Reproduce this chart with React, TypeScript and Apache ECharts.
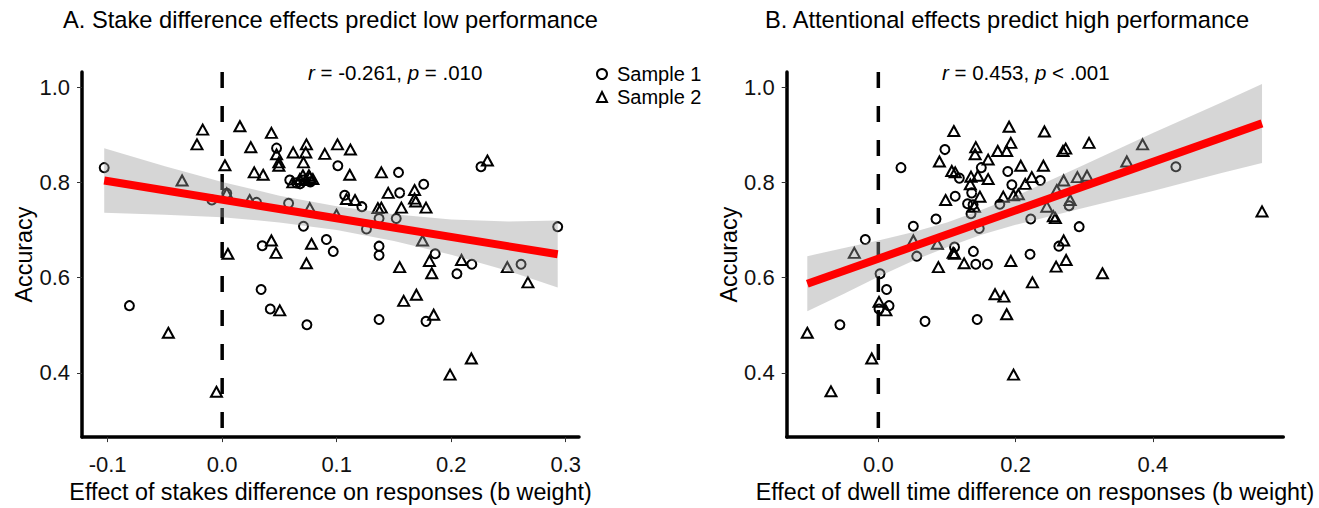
import React, { useEffect, useRef } from "react";
import * as echarts from "echarts";

const FONT = "'Liberation Sans', Arial, sans-serif";

// Panel A: stake difference effects
const aCircles: number[][] = [
  [-0.103, 0.831], [-0.081, 0.541], [0.0475, 0.872], [0.101, 0.835], [0.154, 0.821],
  [0.176, 0.796], [0.155, 0.778], [0.107, 0.773], [0.122, 0.749], [0.058, 0.756],
  [0.004, 0.777], [0.071, 0.708], [0.137, 0.724], [0.152, 0.724], [0.126, 0.702],
  [0.091, 0.68], [0.226, 0.833], [0.293, 0.707], [0.097, 0.655], [0.137, 0.666],
  [0.137, 0.647], [0.186, 0.65], [0.218, 0.628], [0.205, 0.608], [0.261, 0.628],
  [0.074, 0.501], [0.137, 0.512], [0.178, 0.508], [0.035, 0.667], [0.034, 0.575],
  [0.042, 0.534], [0.059, 0.805], [0.065, 0.799], [0.071, 0.805], [0.077, 0.801],
  [0.068, 0.797], [-0.009, 0.763], [0.03, 0.758],
];
const aTriangles: number[][] = [
  [-0.017, 0.911], [-0.022, 0.88], [0.0155, 0.918], [0.043, 0.904], [0.025, 0.874],
  [0.0475, 0.859], [0.0495, 0.842], [0.0495, 0.835], [0.062, 0.863], [0.0736, 0.88],
  [0.073, 0.863], [0.071, 0.842], [0.0896, 0.86], [0.1007, 0.88], [0.112, 0.869],
  [0.1114, 0.816], [0.0024, 0.836], [0.028, 0.821], [0.0358, 0.816], [-0.035, 0.804],
  [0.116, 0.763], [0.1085, 0.765], [0.136, 0.746], [0.0765, 0.811], [0.139, 0.821],
  [0.145, 0.778], [0.168, 0.784], [0.168, 0.766], [0.169, 0.76], [0.178, 0.747],
  [0.1565, 0.747], [0.139, 0.747], [0.2316, 0.846], [0.078, 0.671], [0.175, 0.678],
  [0.0736, 0.63], [0.155, 0.622], [0.181, 0.635], [0.183, 0.609], [0.209, 0.637],
  [0.249, 0.622], [0.267, 0.59], [0.1585, 0.551], [0.1696, 0.564], [0.1847, 0.522],
  [0.2176, 0.43], [0.199, 0.396], [0.005, 0.65], [0.043, 0.678], [0.047, 0.652],
  [0.0503, 0.531], [-0.047, 0.484], [-0.005, 0.36], [0.0617, 0.8], [0.0678, 0.807],
  [0.073, 0.805], [0.0757, 0.815], [0.0792, 0.807], [0.0705, 0.815], [0.024, 0.763],
  [0.0765, 0.746], [0.0998, 0.732], [0.004, 0.777],
];
const aFitX = [-0.103, 0.293];
const aFitY = [0.804, 0.649];
const aBandX = [-0.103, -0.05, 0, 0.05, 0.1, 0.15, 0.2, 0.25, 0.293];
const aBandLo = [0.736, 0.732, 0.727, 0.716, 0.7, 0.677, 0.648, 0.614, 0.579];
const aBandHi = [0.872, 0.834, 0.801, 0.772, 0.75, 0.733, 0.722, 0.718, 0.72];

// Panel B: attentional effects
const bCircles: number[][] = [
  [-0.056, 0.501], [0.0025, 0.608], [0.012, 0.575], [0.001, 0.534], [0.0156, 0.541],
  [0.068, 0.508], [0.056, 0.645], [0.111, 0.664], [0.142, 0.628], [0.159, 0.628],
  [0.1385, 0.655], [0.144, 0.512], [-0.019, 0.68], [0.051, 0.708], [0.084, 0.723],
  [0.147, 0.703], [0.221, 0.649], [0.222, 0.723], [0.2926, 0.707], [0.263, 0.666],
  [0.033, 0.831], [0.097, 0.869], [0.15, 0.831], [0.118, 0.809], [0.1886, 0.823],
  [0.136, 0.778], [0.1945, 0.795], [0.236, 0.804], [0.112, 0.771], [0.13, 0.755],
  [0.138, 0.753], [0.135, 0.734], [0.177, 0.754], [0.278, 0.751], [0.4335, 0.833],
];
const bTriangles: number[][] = [
  [-0.1035, 0.484], [-0.069, 0.361], [-0.035, 0.652], [-0.0096, 0.43], [0.001, 0.549],
  [0.011, 0.531], [0.0875, 0.622], [0.109, 0.652], [0.125, 0.63], [0.193, 0.635],
  [0.17, 0.565], [0.183, 0.56], [0.187, 0.523], [0.197, 0.396], [0.051, 0.678],
  [0.086, 0.671], [0.111, 0.65], [0.258, 0.725], [0.27, 0.678], [0.2736, 0.637],
  [0.259, 0.623], [0.3265, 0.609], [0.2245, 0.59], [0.11, 0.908], [0.1905, 0.917],
  [0.242, 0.907], [0.307, 0.883], [0.142, 0.874], [0.141, 0.859], [0.174, 0.866],
  [0.187, 0.866], [0.193, 0.883], [0.16, 0.848], [0.089, 0.844], [0.107, 0.824],
  [0.112, 0.821], [0.135, 0.812], [0.145, 0.814], [0.16, 0.807], [0.2075, 0.835],
  [0.2405, 0.835], [0.269, 0.866], [0.273, 0.871], [0.134, 0.796], [0.214, 0.797],
  [0.2236, 0.811], [0.27, 0.804], [0.29, 0.811], [0.304, 0.814], [0.098, 0.763],
  [0.148, 0.77], [0.14, 0.749], [0.182, 0.77], [0.197, 0.773], [0.204, 0.775],
  [0.2455, 0.749], [0.2795, 0.763], [0.255, 0.729], [0.362, 0.844], [0.385, 0.88],
  [0.559, 0.739], [0.26, 0.784],
];
const bFitX = [-0.1035, 0.559];
const bFitY = [0.587, 0.924];
const bBandX = [-0.1035, -0.05, 0, 0.05, 0.1, 0.15, 0.2, 0.3, 0.4, 0.5, 0.559];
const bBandLo = [0.529, 0.566, 0.602, 0.635, 0.664, 0.69, 0.711, 0.747, 0.782, 0.82, 0.841];
const bBandHi = [0.645, 0.662, 0.678, 0.695, 0.716, 0.742, 0.771, 0.837, 0.904, 0.968, 1.007];

const yTicks = [0.4, 0.6, 0.8, 1.0];
const aXTicks = [-0.1, 0, 0.1, 0.2, 0.3];
const bXTicks = [0, 0.2, 0.4];
const Y_MIN = 0.2648;
const Y_MAX = 1.032;

const titles = [
  "A. Stake difference effects predict low performance",
  "B. Attentional effects predict high performance",
];
const stats = ["{i|r} = -0.261, {i|p} = .010", "{i|r} = 0.453, {i|p} < .001"];
const xNames = [
  "Effect of stakes difference on responses (b weight)",
  "Effect of dwell time difference on responses (b weight)",
];
const yName = "Accuracy";

function makeX(idx: number, min: number, max: number, ticks: number[]) {
  return {
    type: "value",
    gridIndex: idx,
    min,
    max,
    splitLine: { show: false },
    axisLine: { show: true, onZero: false, lineStyle: { color: "#000", width: 3.5 } },
    axisTick: { show: true, customValues: ticks, length: 5, lineStyle: { color: "#333", width: 1 } },
    axisLabel: {
      customValues: ticks,
      formatter: (v: number) => v.toFixed(1),
      fontSize: 22,
      color: "#111",
      fontFamily: FONT,
      margin: 16,
    },
    name: xNames[idx],
    nameLocation: "middle",
    nameGap: 39,
    nameTextStyle: { fontSize: 23.3, color: "#000", fontFamily: FONT },
  };
}

function makeY(idx: number) {
  return {
    type: "value",
    gridIndex: idx,
    min: Y_MIN,
    max: Y_MAX,
    splitLine: { show: false },
    axisLine: { show: true, onZero: false, lineStyle: { color: "#000", width: 3.5 } },
    axisTick: { show: true, customValues: yTicks, length: 5, lineStyle: { color: "#333", width: 1 } },
    axisLabel: {
      customValues: yTicks,
      formatter: (v: number) => v.toFixed(1),
      fontSize: 22,
      color: "#111",
      fontFamily: FONT,
      margin: 12,
    },
    name: yName,
    nameLocation: "middle",
    nameGap: 46,
    nameTextStyle: { fontSize: 23.3, color: "#000", fontFamily: FONT },
  };
}

const pointStyle = { color: "rgba(0,0,0,0)", borderColor: "#000", borderWidth: 2, opacity: 1 };

function panelSeries(
  idx: number,
  circles: number[][],
  triangles: number[][],
  fitX: number[],
  fitY: number[],
  bandX: number[],
  bandLo: number[],
  bandHi: number[]
) {
  return [
    {
      type: "line",
      xAxisIndex: idx,
      yAxisIndex: idx,
      z: 1,
      silent: true,
      symbol: "none",
      data: [[0, Y_MAX], [0, Y_MIN]],
      lineStyle: { color: "#000", width: 3.5, type: [16, 18], cap: "butt" },
    },
    {
      type: "scatter",
      name: "Sample 1",
      xAxisIndex: idx,
      yAxisIndex: idx,
      z: 2,
      silent: true,
      symbol: "circle",
      symbolSize: 9,
      itemStyle: pointStyle,
      data: circles,
    },
    {
      type: "scatter",
      name: "Sample 2",
      xAxisIndex: idx,
      yAxisIndex: idx,
      z: 2,
      silent: true,
      symbol: "triangle",
      symbolSize: [11, 10],
      itemStyle: pointStyle,
      data: triangles,
    },
    {
      type: "custom",
      xAxisIndex: idx,
      yAxisIndex: idx,
      z: 3,
      silent: true,
      data: [[bandX[0], bandLo[0]]],
      renderItem: (_p: any, api: any) => {
        const pts: number[][] = [];
        for (let i = 0; i < bandX.length; i++) pts.push(api.coord([bandX[i], bandHi[i]]));
        for (let i = bandX.length - 1; i >= 0; i--) pts.push(api.coord([bandX[i], bandLo[i]]));
        return { type: "polygon", shape: { points: pts }, style: { fill: "rgba(153,153,153,0.4)" } };
      },
    },
    {
      type: "line",
      xAxisIndex: idx,
      yAxisIndex: idx,
      z: 4,
      silent: true,
      symbol: "none",
      data: fitX.map((x, i) => [x, fitY[i]]),
      lineStyle: { color: "#ff0000", width: 8, cap: "butt" },
    },
  ];
}

export default function App() {
  const ref = useRef<HTMLDivElement>(null);
  useEffect(() => {
    if (!ref.current) return;
    const chart = echarts.init(ref.current, undefined, { renderer: "svg" });
    const titleStyle = { fontSize: 23.7, fontWeight: "normal", color: "#000", fontFamily: FONT };
    const statStyle = {
      fontSize: 20.5,
      fontWeight: "normal",
      color: "#000",
      fontFamily: FONT,
      rich: { i: { fontStyle: "italic", fontSize: 20.5, fontFamily: FONT, color: "#000" } },
    };
    chart.setOption({
      animation: false,
      backgroundColor: "#fff",
      title: [
        { text: titles[0], left: 63, top: 8, padding: 0, textStyle: titleStyle },
        { text: titles[1], left: 765, top: 8, padding: 0, textStyle: titleStyle },
        { text: stats[0], left: 308, top: 62, padding: 0, textStyle: statStyle },
        { text: stats[1], left: 942, top: 62, padding: 0, textStyle: statStyle },
      ],
      legend: {
        orient: "vertical",
        left: 596,
        top: 64,
        padding: 0,
        itemGap: 3,
        itemWidth: 10,
        itemHeight: 10,
        textStyle: { fontSize: 20, color: "#000", fontFamily: FONT, padding: [0, 0, 0, 5] },
        data: [
          { name: "Sample 1", icon: "circle", itemStyle: pointStyle },
          { name: "Sample 2", icon: "triangle", itemStyle: pointStyle },
        ],
        selectedMode: false,
      },
      grid: [
        { left: 82, top: 72, width: 497, height: 374.7 },
        { left: 786.7, top: 72, width: 496.6, height: 374.7 },
      ],
      xAxis: [makeX(0, -0.1224, 0.3116, aXTicks), makeX(1, -0.1335, 0.59, bXTicks)],
      yAxis: [makeY(0), makeY(1)],
      series: [
        ...panelSeries(0, aCircles, aTriangles, aFitX, aFitY, aBandX, aBandLo, aBandHi),
        ...panelSeries(1, bCircles, bTriangles, bFitX, bFitY, bBandX, bBandLo, bBandHi),
      ],
    });
    return () => chart.dispose();
  }, []);
  return (
    <div
      ref={ref}
      style={{ position: "absolute", left: 0, top: 0, width: 1319, height: 508, background: "#fff" }}
    />
  );
}
